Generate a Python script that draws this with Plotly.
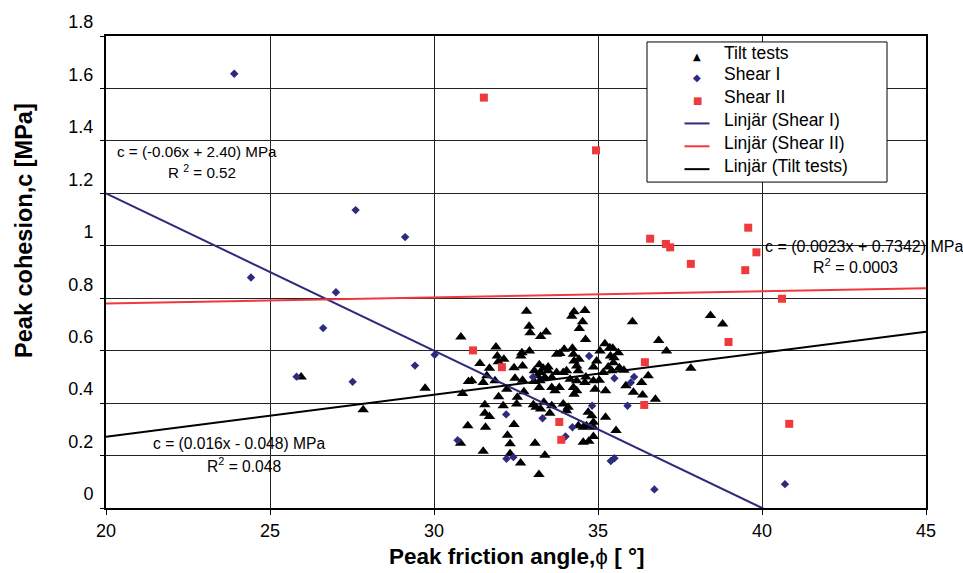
import plotly.graph_objects as go

# Tilt tests: peak friction angle [deg] and peak cohesion [MPa]
tilt_phi = [
    32.82, 34.27, 34.20, 34.60, 34.53, 34.43, 32.90, 32.93, 33.42, 33.25,
    34.62, 36.05, 30.82, 36.85, 37.09, 31.89, 31.93, 32.13, 31.96, 32.68,
    32.91, 32.65, 33.74, 33.84, 33.97, 34.22, 34.25, 34.27, 34.42, 34.35,
    35.21, 35.36, 35.45, 35.38, 35.49, 35.06, 35.62, 35.47, 35.31, 35.65,
    35.79, 34.96, 34.86, 31.40, 31.69, 31.61, 31.15, 31.05, 31.50, 31.86,
    32.44, 32.70, 32.47, 32.70, 33.06, 33.21, 33.33, 33.48, 33.48, 33.25,
    33.15, 33.38, 33.23, 33.05, 33.59, 33.74, 33.94, 34.04, 34.15, 34.35,
    34.40, 34.63, 34.60, 34.86, 35.04, 35.16, 35.42, 29.73, 30.87, 32.22,
    32.74, 33.21, 33.59, 33.69, 33.82, 34.25, 34.35, 34.27, 34.91, 35.23,
    35.85, 36.33, 36.53, 36.08, 36.36, 36.75, 31.97, 32.54, 32.52, 32.11,
    31.55, 31.55, 31.69, 33.03, 33.11, 33.35, 33.59, 33.94, 33.53, 33.25,
    34.04, 34.09, 34.70, 34.81, 35.23, 34.86, 35.55, 31.03, 31.57, 32.44,
    34.40, 34.65, 34.86, 34.55, 32.24, 32.32, 33.08, 34.86, 34.55, 34.72,
    30.81, 31.50, 32.32, 32.64, 33.38, 33.20, 27.84, 25.95, 38.43, 38.80,
    37.83,
]
tilt_c = [
    0.750, 0.748, 0.731, 0.753, 0.710, 0.685, 0.693, 0.668, 0.671, 0.654,
    0.643, 0.710, 0.652, 0.639, 0.599, 0.614, 0.580, 0.567, 0.558, 0.592,
    0.599, 0.580, 0.586, 0.589, 0.605, 0.609, 0.586, 0.561, 0.567, 0.542,
    0.626, 0.611, 0.609, 0.580, 0.573, 0.599, 0.592, 0.554, 0.538, 0.535,
    0.525, 0.561, 0.538, 0.551, 0.533, 0.504, 0.485, 0.482, 0.479, 0.485,
    0.535, 0.542, 0.495, 0.487, 0.523, 0.546, 0.533, 0.538, 0.523, 0.517,
    0.504, 0.498, 0.485, 0.482, 0.498, 0.517, 0.517, 0.523, 0.491, 0.485,
    0.523, 0.500, 0.479, 0.485, 0.487, 0.517, 0.523, 0.457, 0.437, 0.453,
    0.443, 0.460, 0.460, 0.447, 0.460, 0.460, 0.447, 0.434, 0.453, 0.447,
    0.466, 0.479, 0.504, 0.441, 0.431, 0.415, 0.424, 0.422, 0.397, 0.390,
    0.394, 0.361, 0.349, 0.394, 0.384, 0.403, 0.390, 0.397, 0.361, 0.378,
    0.371, 0.384, 0.365, 0.352, 0.346, 0.327, 0.296, 0.314, 0.308, 0.318,
    0.314, 0.314, 0.308, 0.308, 0.277, 0.245, 0.247, 0.273, 0.251, 0.255,
    0.247, 0.216, 0.207, 0.172, 0.201, 0.128, 0.375, 0.500, 0.734, 0.702,
    0.533,
]

# Direct shear tests, series I
shear1_phi = [
    23.91, 24.42, 27.61, 29.12, 27.01, 26.62, 25.81, 27.52, 29.42, 30.02,
    30.72, 32.20, 32.21, 32.42, 33.02, 33.31, 34.01, 34.22, 34.73, 34.82,
    35.39, 35.50, 35.50, 35.90, 36.00, 36.10, 36.72, 40.70,
]
shear1_c = [
    1.656, 0.879, 1.136, 1.033, 0.823, 0.686, 0.501, 0.481, 0.543, 0.584,
    0.258, 0.357, 0.188, 0.194, 0.500, 0.342, 0.273, 0.308, 0.580, 0.390,
    0.179, 0.190, 0.495, 0.390, 0.479, 0.500, 0.071, 0.091,
]

# Direct shear tests, series II
shear2_phi = [
    31.52, 34.94, 31.19, 32.07, 36.43, 36.41, 33.82, 33.88, 39.58, 37.07,
    37.20, 39.83, 37.83, 39.49, 40.61, 38.98, 40.83, 36.59,
]
shear2_c = [
    1.565, 1.364, 0.601, 0.537, 0.556, 0.393, 0.328, 0.260, 1.069, 1.007,
    0.994, 0.975, 0.931, 0.907, 0.798, 0.633, 0.321, 1.027,
]

series_names = ["Tilt tests", "Shear I", "Shear II"]

# Linear trend lines c = k*phi + m
fit_names = ["Linjär (Shear I)", "Linjär (Shear II)", "Linjär (Tilt tests)"]
fit_slopes = [-0.06, 0.0023, 0.016]
fit_intercepts = [2.40, 0.7342, -0.048]
fit_equations = ["c = (-0.06x + 2.40) MPa", "c = (0.0023x + 0.7342) MPa",
                 "c = (0.016x - 0.048) MPa"]
fit_r2 = ["R <sup>2</sup> = 0.52", "R<sup>2</sup> = 0.0003",
          "R<sup>2</sup> = 0.048"]
fit_phi_span = [20, 45]

x_tick_vals = [20, 25, 30, 35, 40, 45]
y_tick_vals = [0, 0.2, 0.4, 0.6, 0.8, 1.0, 1.2, 1.4, 1.6, 1.8]
y_tick_text = ["0", "0.2", "0.4", "0.6", "0.8", "1", "1.2", "1.4", "1.6", "1.8"]

NAVY = "#2d2b7b"
RED = "#ef3a3d"
BLACK = "#000000"
FONT = "Liberation Sans, Arial, sans-serif"

# Page layout in pixels
W, H = 963, 573
PLOT_L, PLOT_R, PLOT_T, PLOT_B = 106, 926, 33, 508


def px_x(px):
    return (px - PLOT_L) / (PLOT_R - PLOT_L)


def px_y(py):
    return (PLOT_B - py) / (PLOT_B - PLOT_T)


fig = go.Figure()

marker_styles = [
    dict(symbol="triangle-up", size=10, color=BLACK),
    dict(symbol="diamond", size=6.5, color=NAVY),
    dict(symbol="square", size=8, color=RED),
]
for name, xs, ys, mk in zip(series_names,
                            [tilt_phi, shear1_phi, shear2_phi],
                            [tilt_c, shear1_c, shear2_c],
                            marker_styles):
    fig.add_trace(go.Scatter(x=xs, y=ys, mode="markers", name=name,
                             marker=mk, showlegend=False))

line_colors = [NAVY, RED, BLACK]
for name, k, m, col in zip(fit_names, fit_slopes, fit_intercepts, line_colors):
    fig.add_trace(go.Scatter(
        x=fit_phi_span, y=[k * p + m for p in fit_phi_span],
        mode="lines", name=name, line=dict(color=col, width=2),
        showlegend=False,
    ))

# Trend line equations: (equation position, R² position, anchor, font size)
eq_places = [
    ((197, 149), (202, 169), "center", 15.2),
    ((763, 245), (855, 264), "left", 16),
    ((239, 443), (244, 465), "center", 15.6),
]
for eq, r2, (p1, p2, anchor, fs) in zip(fit_equations, fit_r2, eq_places):
    fig.add_annotation(x=px_x(p1[0]), y=px_y(p1[1]), xref="paper", yref="paper",
                       text=eq, showarrow=False, xanchor=anchor, yanchor="middle",
                       font=dict(family=FONT, size=fs, color=BLACK))
    fig.add_annotation(x=px_x(p2[0]), y=px_y(p2[1]), xref="paper", yref="paper",
                       text=r2, showarrow=False, xanchor="center", yanchor="middle",
                       font=dict(family=FONT, size=fs, color=BLACK))

# Legend box with keys and labels
LEG_L, LEG_R, LEG_T, LEG_B = 647, 887, 39, 180
leg_rows = [52, 73, 96, 120, 143, 166]
leg_key_x, leg_key_half, leg_text_x = 697, 12.5, 722
shapes = [dict(type="rect", xref="paper", yref="paper", layer="above",
               x0=px_x(LEG_L), x1=px_x(LEG_R), y0=px_y(LEG_B), y1=px_y(LEG_T),
               fillcolor="white", line=dict(color=BLACK, width=1))]
leg_glyphs = [("▲", BLACK, 10), ("◆", NAVY, 10), ("■", RED, 10)]
for row, (g, col, sz) in zip(leg_rows[:3], leg_glyphs):
    fig.add_annotation(x=px_x(leg_key_x), y=px_y(row + 1.5), xref="paper",
                       yref="paper", text=g, showarrow=False,
                       xanchor="center", yanchor="middle",
                       font=dict(family="DejaVu Sans", size=sz, color=col))
for row, col in zip(leg_rows[3:], line_colors):
    shapes.append(dict(type="line", xref="paper", yref="paper", layer="above",
                       x0=px_x(leg_key_x - leg_key_half),
                       x1=px_x(leg_key_x + leg_key_half),
                       y0=px_y(row + 1), y1=px_y(row + 1),
                       line=dict(color=col, width=2)))
for row, name in zip(leg_rows, series_names + fit_names):
    fig.add_annotation(x=px_x(leg_text_x), y=px_y(row - 2), xref="paper",
                       yref="paper", text=name, showarrow=False,
                       xanchor="left", yanchor="middle",
                       font=dict(family=FONT, size=17.5, color=BLACK))

# Axis titles
fig.add_annotation(
    x=0.5, y=-0.103, xref="paper", yref="paper", showarrow=False,
    text="Peak friction angle,<span style='font-weight:normal'>ϕ</span> [ °]",
    xanchor="center", yanchor="middle",
    font=dict(family=FONT, size=22.5, color=BLACK, weight="bold"),
)
fig.add_annotation(
    x=-0.100, y=0.587, xref="paper", yref="paper", showarrow=False,
    text="Peak cohesion,c [MPa]", textangle=-90,
    xanchor="center", yanchor="middle",
    font=dict(family=FONT, size=23.5, color=BLACK, weight="bold"),
)

fig.update_xaxes(
    range=[20, 45], tickvals=x_tick_vals, showgrid=True, gridcolor="#222222",
    gridwidth=1, showline=True, linecolor=BLACK, linewidth=2, mirror=True,
    ticks="outside", ticklen=5, tickcolor=BLACK, zeroline=False,
    tickfont=dict(family=FONT, size=18, color=BLACK),
)
fig.update_yaxes(
    range=[0, 1.8], tickvals=y_tick_vals, ticktext=y_tick_text,
    showgrid=True, gridcolor="#222222", gridwidth=1, showline=True,
    linecolor=BLACK, linewidth=2, mirror=True, ticks="outside", ticklen=4,
    tickcolor=BLACK, zeroline=False, ticklabelshift=-14, ticklabelstandoff=3,
    tickfont=dict(family=FONT, size=18, color=BLACK),
)

fig.update_layout(
    width=W, height=H,
    margin=dict(l=PLOT_L, r=W - PLOT_R, t=PLOT_T, b=H - PLOT_B),
    paper_bgcolor="white", plot_bgcolor="white",
    font=dict(family=FONT, color=BLACK),
    shapes=shapes,
    showlegend=False,
)

fig.write_html("out.html")
